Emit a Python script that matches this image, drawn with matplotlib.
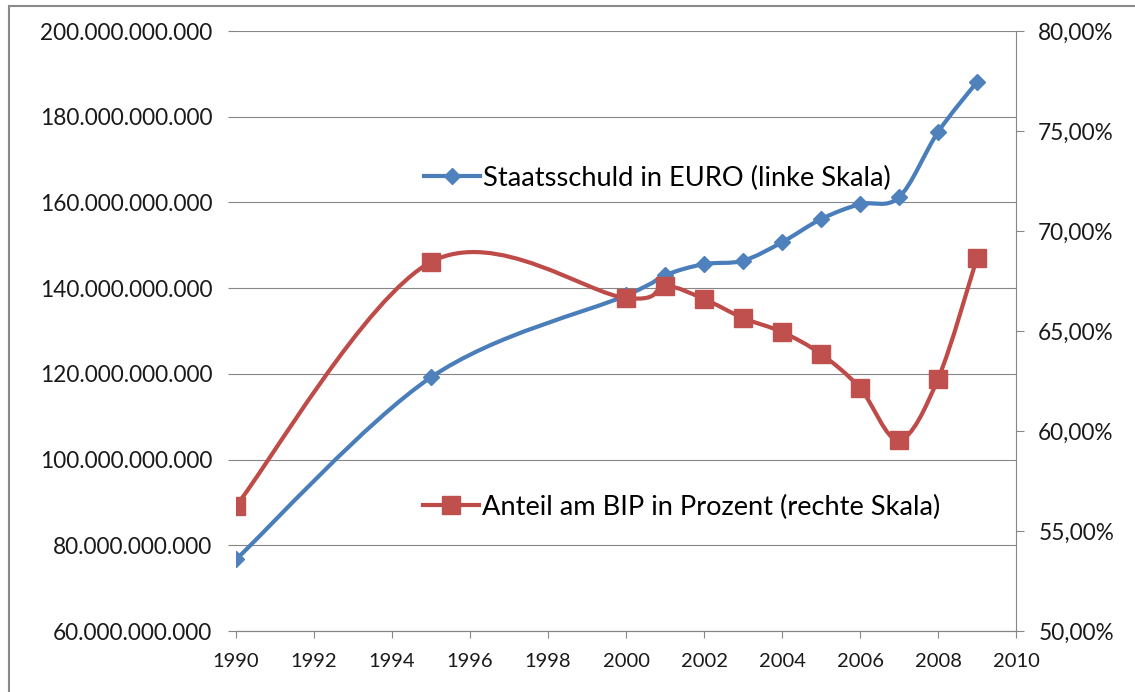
import numpy as np
import matplotlib
matplotlib.use("Agg")
import matplotlib.pyplot as plt
from matplotlib.path import Path
from matplotlib.patches import PathPatch, Rectangle
from matplotlib.lines import Line2D

# data
years = [1990, 1995, 2000, 2001, 2002, 2003, 2004, 2005, 2006, 2007, 2008, 2009]
debt_eur = [76.7e9, 119.2e9, 138.3e9, 143.0e9, 145.6e9, 146.4e9, 150.7e9,
            156.1e9, 159.6e9, 161.2e9, 176.4e9, 188.1e9]
debt_pct = [56.25, 68.45, 66.65, 67.25, 66.6, 65.65, 64.95, 63.85, 62.15,
            59.55, 62.6, 68.65]

left_ticks = [60e9, 80e9, 100e9, 120e9, 140e9, 160e9, 180e9, 200e9]
right_ticks = [50, 55, 60, 65, 70, 75, 80]
x_ticks = list(range(1990, 2011, 2))

label_debt = "Staatsschuld in EURO (linke Skala)"
label_pct = "Anteil am BIP in Prozent (rechte Skala)"

BLUE = "#4A7EBB"
BLUE_M = "#4F81BD"
RED = "#BE4B48"
RED_M = "#C0504D"
GRID = "#868686"
FONT = "Lato"


def smooth_path(x, y):
    # Excel-style smoothed line: cubic Bezier segments, Catmull-Rom tangents
    pts = np.column_stack([x, y]).astype(float)
    n = len(pts)
    verts = [pts[0]]
    codes = [Path.MOVETO]
    for i in range(n - 1):
        p0 = pts[i - 1] if i > 0 else pts[i]
        p1 = pts[i]
        p2 = pts[i + 1]
        p3 = pts[i + 2] if i + 2 < n else pts[i + 1]
        verts += [p1 + (p2 - p0) / 6, p2 - (p3 - p1) / 6, p2]
        codes += [Path.CURVE4] * 3
    return Path(verts, codes)


plt.rcParams["font.family"] = [FONT, "DejaVu Sans"]

fig = plt.figure(figsize=(11.35, 6.92), dpi=100)
ax = fig.add_axes([236 / 1135, 1 - 631 / 692, 780 / 1135, 600 / 692])
ax2 = ax.twinx()

# smoothed lines + markers
ax.add_patch(PathPatch(smooth_path(years, debt_eur), fill=False, ec=BLUE,
                       lw=3.0, joinstyle="round", capstyle="round", zorder=3))
ax.plot(years, debt_eur, ls="none", marker="D", ms=8.5, mfc=BLUE_M, mec=BLUE_M, zorder=4)

ax2.add_patch(PathPatch(smooth_path(years, debt_pct), fill=False, ec=RED,
                        lw=3.0, joinstyle="round", capstyle="round", zorder=3))
ax2.plot(years, debt_pct, ls="none", marker="s", ms=13.5, mfc=RED_M, mec=RED_M, zorder=4)

ax.set_xlim(1990, 2010)
ax.set_ylim(60e9, 200e9)
ax2.set_ylim(50, 80)

ax.set_xticks(x_ticks)
ax.set_xticklabels([str(t) for t in x_ticks])
ax.set_yticks(left_ticks)
ax.set_yticklabels([f"{v:,.0f}".replace(",", ".") for v in left_ticks])
ax2.set_yticks(right_ticks)
ax2.set_yticklabels([f"{v:.2f}%".replace(".", ",") for v in right_ticks])

ax.yaxis.grid(True, color=GRID, lw=0.8)
ax.set_axisbelow(True)

for a in (ax, ax2):
    for s in ("left", "top", "right"):
        a.spines[s].set_visible(False)
    a.spines["bottom"].set_color(GRID)
    a.spines["bottom"].set_linewidth(0.8)
ax2.spines["right"].set_visible(True)
ax2.spines["right"].set_color(GRID)
ax2.spines["right"].set_linewidth(0.8)

ax.tick_params(axis="y", length=6, width=0.8, color=GRID, pad=11,
               labelsize=16.3, labelcolor="#1a1a1a")
ax.tick_params(axis="x", length=5, width=0.8, color=GRID, pad=11,
               labelsize=14.5, labelcolor="#1a1a1a")
ax2.tick_params(axis="y", length=6, width=0.8, color=GRID, pad=10,
                labelsize=16.3, labelcolor="#1a1a1a")

# the two legend entries sit apart inside the plot area
h1 = Line2D([], [], color=BLUE, lw=3.0, marker="D", ms=8.5, mfc=BLUE_M, mec=BLUE_M)
h2 = Line2D([], [], color=RED, lw=3.0, marker="s", ms=13.5, mfc=RED_M, mec=RED_M)
leg1 = ax2.legend([h1], [label_debt], loc="center left",
                  bbox_to_anchor=(424 / 1135, 1 - 178 / 692), bbox_transform=fig.transFigure,
                  frameon=False, borderpad=0, borderaxespad=0, handlelength=2.05,
                  handletextpad=0.12, prop={"family": FONT, "size": 19.6})
ax2.add_artist(leg1)
ax2.legend([h2], [label_pct], loc="center left",
           bbox_to_anchor=(423 / 1135, 1 - 507 / 692), bbox_transform=fig.transFigure,
           frameon=False, borderpad=0, borderaxespad=0, handlelength=2.05,
           handletextpad=0.12, prop={"family": FONT, "size": 19.6})

# chart-area border (only left and top edges are inside the picture)
fig.patches.append(Rectangle((9 / 1135, -0.05), 1.1, 1 - 6 / 692 + 0.05,
                             transform=fig.transFigure, fill=False,
                             ec="#8a8a8a", lw=1.5))

fig.savefig("out.png", dpi=100)
